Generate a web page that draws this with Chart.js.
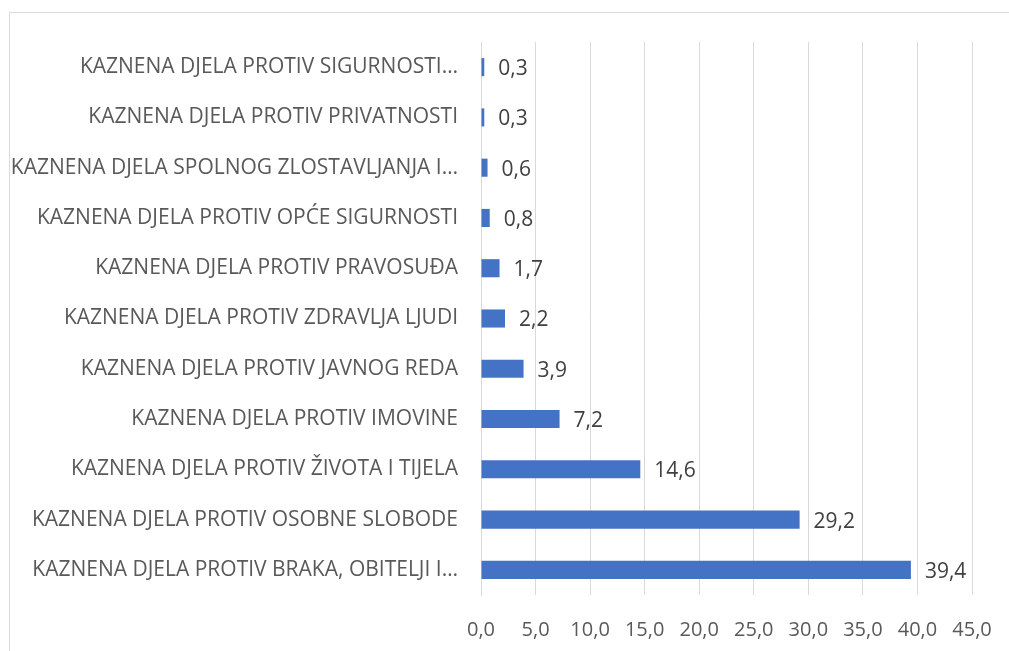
<!DOCTYPE html>
<html>
<head>
<meta charset="utf-8">
<script src="https://cdn.jsdelivr.net/npm/chart.js@4.4.0/dist/chart.umd.min.js"></script>
<style>
    html, body { margin: 0; padding: 0; background: #fff; overflow: hidden; }
    #frame {
        position: absolute; left: 9px; top: 12px; width: 1100px; height: 700px;
        border-top: 1px solid #d9d9d9; border-left: 1px solid #d9d9d9;
    }
    #wrap { position: absolute; left: 0; top: 0; width: 1009px; height: 651px; }
</style>
</head>
<body>
<div id="frame"></div>
<div id="wrap"><canvas id="barChart"></canvas></div>
<script>
// Categories listed top to bottom, as in the chart
const categories = [
    'KAZNENA DJELA PROTIV SIGURNOSTI…',
    'KAZNENA DJELA PROTIV PRIVATNOSTI',
    'KAZNENA DJELA SPOLNOG ZLOSTAVLJANJA I…',
    'KAZNENA DJELA PROTIV OPĆE SIGURNOSTI',
    'KAZNENA DJELA PROTIV PRAVOSUĐA',
    'KAZNENA DJELA PROTIV ZDRAVLJA LJUDI',
    'KAZNENA DJELA PROTIV JAVNOG REDA',
    'KAZNENA DJELA PROTIV IMOVINE',
    'KAZNENA DJELA PROTIV ŽIVOTA I TIJELA',
    'KAZNENA DJELA PROTIV OSOBNE SLOBODE',
    'KAZNENA DJELA PROTIV BRAKA, OBITELJI I…'
];
const values = [0.3, 0.3, 0.6, 0.8, 1.7, 2.2, 3.9, 7.2, 14.6, 29.2, 39.4];
const axisMin = 0;
const axisMax = 45;
const axisStep = 5;

const FONT = "'Open Sans', sans-serif";
const fmt = v => v.toFixed(1).replace('.', ',');

// simple value labels at the end of each bar
const valueLabels = {
    id: 'valueLabels',
    afterDatasetsDraw(chart) {
        const ctx = chart.ctx;
        const meta = chart.getDatasetMeta(0);
        ctx.save();
        ctx.font = '21px ' + FONT;
        ctx.fillStyle = '#404040';
        ctx.textAlign = 'left';
        ctx.textBaseline = 'middle';
        meta.data.forEach((bar, i) => {
            ctx.fillText(fmt(values[i]), bar.x + 14, bar.y + 2);
        });
        ctx.restore();
    }
};

const chart = new Chart(document.getElementById('barChart'), {
    type: 'bar',
    data: {
        labels: categories,
        datasets: [{
            data: values,
            backgroundColor: '#4472C4',
            borderWidth: 0,
            barPercentage: 0.72,
            categoryPercentage: 0.5
        }]
    },
    options: {
        indexAxis: 'y',
        responsive: true,
        maintainAspectRatio: false,
        animation: false,
        layout: { padding: { left: 0, right: 37, top: 42, bottom: 0 } },
        plugins: {
            legend: { display: false },
            tooltip: { enabled: false }
        },
        scales: {
            x: {
                min: axisMin,
                max: axisMax,
                grid: { color: '#d9d9d9', lineWidth: 1, drawTicks: false },
                border: { display: false },
                ticks: {
                    stepSize: axisStep,
                    padding: 23,
                    color: '#595959',
                    font: { family: FONT, size: 20 },
                    callback: v => fmt(v)
                },
                afterFit: s => {
                    s.height = 56;
                    s.paddingLeft = 0;
                    s.paddingRight = 0;
                }
            },
            y: {
                grid: { display: false, drawTicks: false },
                border: { display: true, color: '#d9d9d9', width: 1 },
                ticks: {
                    padding: 23,
                    color: '#595959',
                    font: { family: FONT, size: 21 }
                },
                afterFit: s => { s.width = 481; }
            }
        }
    },
    plugins: [valueLabels]
});
</script>
</body>
</html>
